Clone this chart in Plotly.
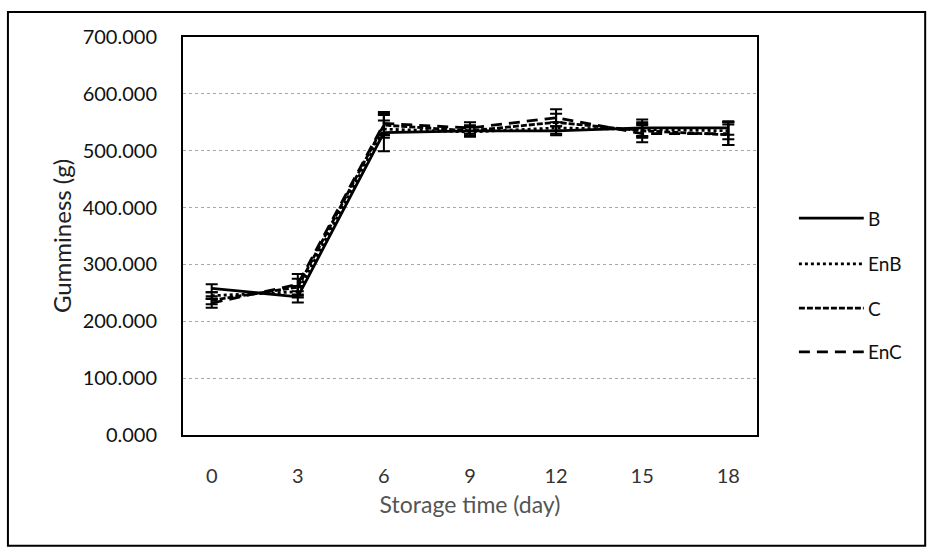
import plotly.graph_objects as go

# Storage days (categorical x axis)
days = ["0", "3", "6", "9", "12", "15", "18"]

# Mean gumminess (g) for each treatment
b_vals = [258, 243, 532, 535, 535, 540, 540]
enb_vals = [245, 252, 538, 533, 540, 538, 535]
c_vals = [237, 260, 545, 535, 550, 535, 528]
enc_vals = [232, 265, 548, 540, 558, 530, 530]

# Standard deviations
b_err = [7, 10, 33, 8, 8, 15, 12]
enb_err = [6, 10, 15, 8, 10, 12, 15]
c_err = [7, 15, 18, 10, 15, 12, 18]
enc_err = [8, 18, 20, 10, 15, 15, 20]

y_ticks = [0, 100, 200, 300, 400, 500, 600, 700]

series = [
    ("B", b_vals, b_err, "solid"),
    ("EnB", enb_vals, enb_err, "dot"),
    ("C", c_vals, c_err, "6px,2px"),
    ("EnC", enc_vals, enc_err, "11px,7px"),
]

font_family = "Lato, 'Open Sans', sans-serif"

fig = go.Figure()
for name, vals, err, dash in series:
    fig.add_trace(go.Scatter(
        x=days, y=vals, name=name, mode="lines", showlegend=False,
        line=dict(color="black", width=2.8, dash=dash),
        error_y=dict(type="data", array=err, visible=True,
                     color="black", thickness=2, width=6),
    ))

fig.update_layout(
    width=928, height=552,
    margin=dict(l=183, r=171, t=37, b=117),
    paper_bgcolor="white", plot_bgcolor="white",
    font=dict(family=font_family, size=19, color="#111"),
    showlegend=False,
    xaxis=dict(type="category", showgrid=False, zeroline=False,
               showline=True, linecolor="black", linewidth=2, mirror=True,
               ticks="", ticklabelstandoff=22,
               tickfont=dict(size=20, color="#333"),
               title=dict(text="Storage time (day)",
                          font=dict(size=23, color="#555"), standoff=11)),
    yaxis=dict(range=[0, 700], tickvals=y_ticks,
               ticktext=[f"{v:.3f}" for v in y_ticks],
               showgrid=True, gridcolor="#a8a8a8", gridwidth=1,
               griddash="dot", zeroline=False,
               showline=True, linecolor="black", linewidth=2, mirror=True,
               ticks="", ticklabelstandoff=20,
               tickfont=dict(size=20, color="#111"),
               title=dict(text="Gumminess (g)",
                          font=dict(size=24, color="#222"), standoff=4)),
)

# Legend drawn to the right of the plot: sample line plus label per series
legend_y = [0.545, 0.430, 0.319, 0.209]
for (name, _, _, dash), ly in zip(series, legend_y):
    fig.add_shape(type="line", xref="paper", yref="paper",
                  x0=1.073, x1=1.186, y0=ly, y1=ly,
                  line=dict(color="black", width=2.8, dash=dash))
    fig.add_annotation(xref="paper", yref="paper", x=1.19, y=ly,
                       text=name, showarrow=False, xanchor="left",
                       yanchor="middle", font=dict(size=19, color="#111"))

# Outer chart-area border
fig.add_shape(type="rect", xref="paper", yref="paper",
              x0=-0.305, x1=1.293, y0=-0.278, y1=1.063,
              line=dict(color="black", width=2), layer="below")

fig.write_html("out.html")
